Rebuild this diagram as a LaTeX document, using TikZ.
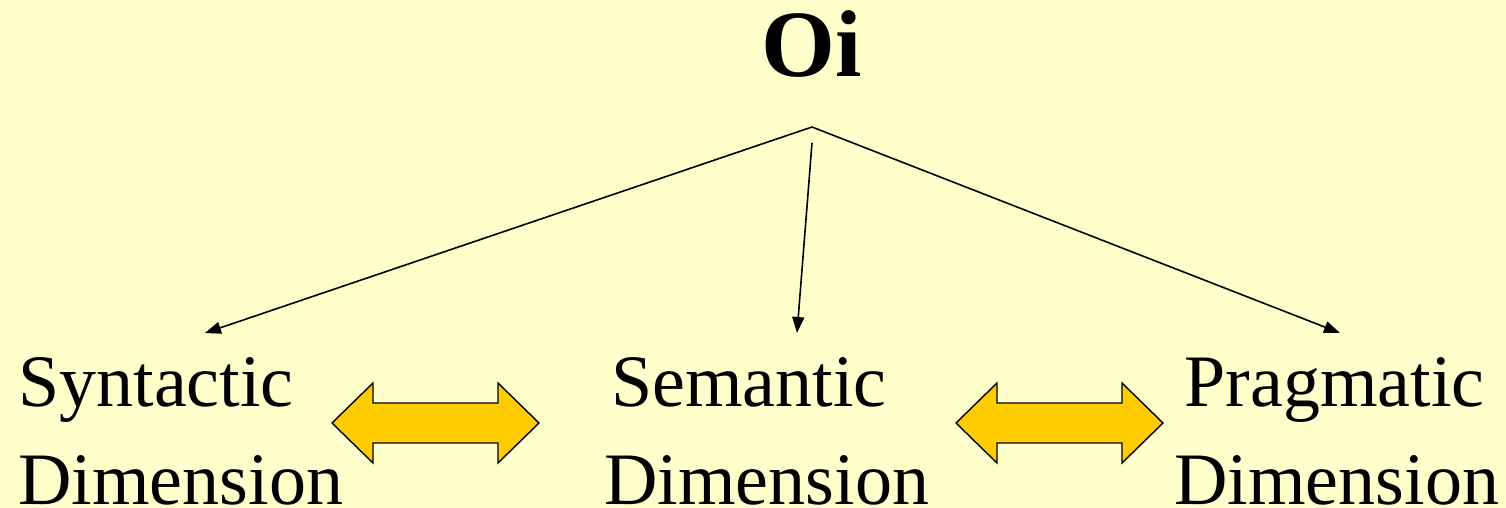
\documentclass[tikz,border=0pt]{standalone}
\usepackage{fontspec}
\setmainfont{Liberation Serif}
\usepackage{xcolor}
\usetikzlibrary{arrows.meta, positioning}
\definecolor{slideYellow}{HTML}{FFFFCC}
\definecolor{arrowGold}{HTML}{FFCC00}

\begin{document}
\begin{tikzpicture}[x=0.5pt, y=-0.5pt,
    dimbox/.style={inner sep=0pt, anchor=base west, align=left,
      font=\fontsize{37}{49}\selectfont},
    linkarr/.style={draw=black, fill=arrowGold, line width=0.7pt, line join=miter},
    darr/.style={-{Triangle[length=8pt, width=6pt]}, line width=0.8pt}
  ]
  \fill[slideYellow] (0,0) rectangle (1506,508);
  \useasboundingbox (0,0) rectangle (1506,508);

  \node[inner sep=0pt, anchor=base, font=\fontsize{47.5}{57}\selectfont\bfseries] (oi) at (812,77) {Oi};
  \coordinate (apex) at (812,127);
  \coordinate (mid) at (812,143);
  \coordinate (tsyn) at (205,333);
  \coordinate (tsem) at (797,333);
  \coordinate (tpra) at (1340,333);

  % base anchor sits on the last line
  \node[dimbox] (syn) at (18,504) {Syntactic\\Dimension};
  \node[dimbox] (sem) at (604,504) {\hspace{3.5pt}Semantic\\Dimension};
  \node[dimbox] (pra) at (1174,504) {\hspace{5pt}Pragmatic\\Dimension};

  % double arrows between the dimensions
  \foreach \x/\n in {332/ss, 956/sp} {
    \draw[linkarr] (\x,423) -- ++(41,-40) -- ++(0,20) -- ++(125,0) -- ++(0,-20)
      -- ++(41,40) -- ++(-41,40) -- ++(0,-20) -- ++(-125,0) -- ++(0,20) -- cycle;
  }

  \draw[darr] (apex) -- (tsyn);
  \draw[darr] (mid) -- (tsem);
  \draw[darr] (apex) -- (tpra);
\end{tikzpicture}
\end{document}
